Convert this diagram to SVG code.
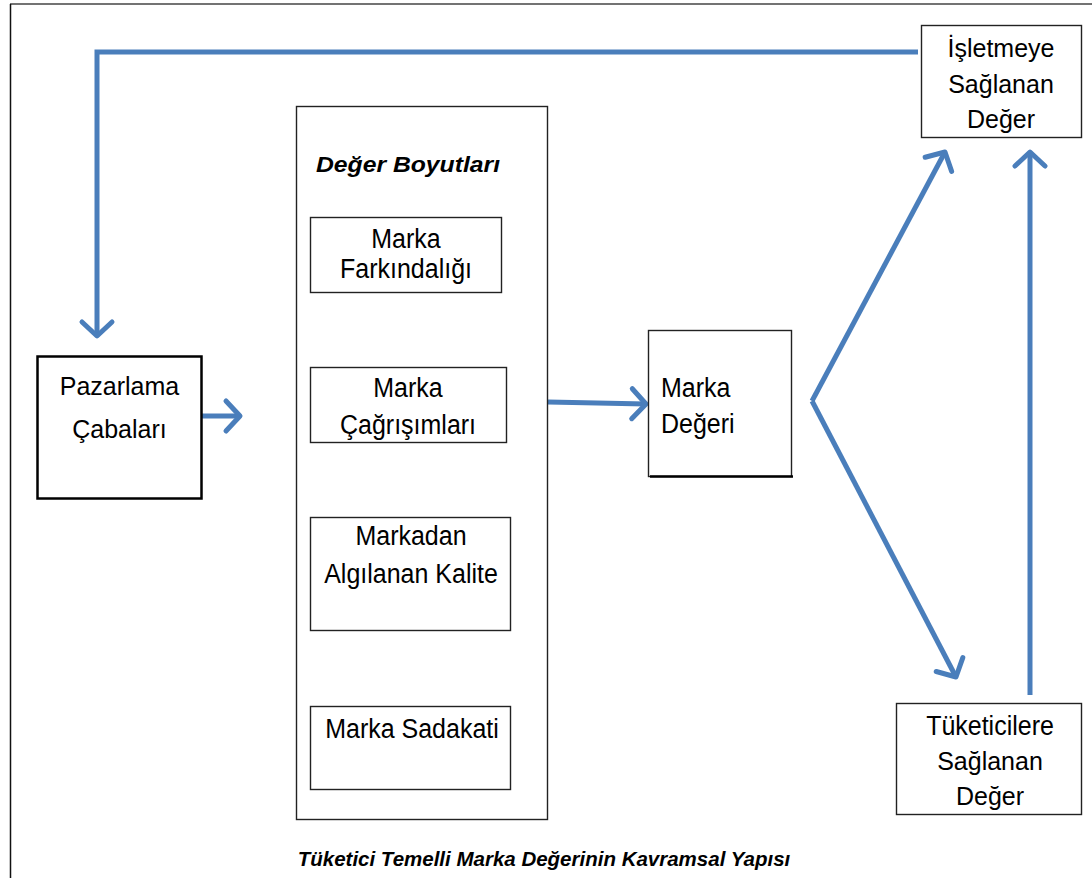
<svg xmlns="http://www.w3.org/2000/svg" width="1092" height="878" viewBox="0 0 1092 878">
<style>
.box{fill:#fff;stroke:#222;stroke-width:1.4}
.t{font-family:"Liberation Sans",Arial,sans-serif;font-size:25px;fill:#000}
.c{text-anchor:middle}
.bi{font-weight:bold;font-style:italic}
.con{fill:none;stroke:#4a7ebb;stroke-width:5;stroke-linejoin:miter}
</style>
<defs>
<marker id="ah" markerUnits="userSpaceOnUse" viewBox="0 0 22 36" refX="17" refY="18" markerWidth="22" markerHeight="36" orient="auto" overflow="visible">
<path d="M3,3 L17,18 L3,33" fill="none" stroke="#4a7ebb" stroke-width="5" stroke-linecap="round" stroke-linejoin="round"/>
</marker>
</defs>
<rect width="1092" height="878" fill="#fff"/>
<g id="frame">
<line x1="10" y1="4" x2="1092" y2="4" stroke="#444" stroke-width="1.5"/>
<line x1="10.5" y1="4" x2="10.5" y2="878" stroke="#111" stroke-width="1.5"/>
</g>
<g id="connectors">
<path class="con" d="M918,52 H97 V336" marker-end="url(#ah)"/>
<path class="con" d="M202,416 H240" marker-end="url(#ah)"/>
<path class="con" d="M548,402 L646,404" marker-end="url(#ah)"/>
<path class="con" d="M812,401 L945,152" marker-end="url(#ah)"/>
<path class="con" d="M812,401 L956,677" marker-end="url(#ah)"/>
<path class="con" d="M1030,695 V152" marker-end="url(#ah)"/>
</g>
<g id="isletmeye">
<rect class="box" x="921.5" y="25.5" width="160" height="112"/>
<text class="t c" x="1001" y="57">İşletmeye</text>
<text class="t c" x="1001" y="93">Sağlanan</text>
<text class="t c" x="1001" y="128">Değer</text>
</g>
<g id="pazarlama">
<rect x="37.5" y="356.5" width="164" height="142" fill="#fff" stroke="#000" stroke-width="2.5"/>
<text class="t c" x="119.5" y="395">Pazarlama</text>
<text class="t c" x="119.5" y="438">Çabaları</text>
</g>
<g id="deger-boyutlari">
<rect class="box" x="296.5" y="106.5" width="251" height="713"/>
<text class="t bi" transform="translate(316,172) scale(1.03,0.9)" style="font-size:24px">Değer Boyutları</text>
</g>
<g id="farkindalik">
<rect class="box" x="310.5" y="217.5" width="191" height="75"/>
<text class="t c" transform="translate(406,248) scale(1,1.12)">Marka</text>
<text class="t c" transform="translate(406,278) scale(1,1.12)">Farkındalığı</text>
</g>
<g id="cagrisim">
<rect class="box" x="310.5" y="367.5" width="196" height="75"/>
<text class="t c" transform="translate(408,397) scale(1,1.12)">Marka</text>
<text class="t c" transform="translate(408,434) scale(1,1.12)">Çağrışımları</text>
</g>
<g id="kalite">
<rect class="box" x="310.5" y="517.5" width="200" height="113"/>
<text class="t c" transform="translate(411,545) scale(1,1.12)">Markadan</text>
<text class="t c" transform="translate(411,583) scale(1,1.12)">Algılanan Kalite</text>
</g>
<g id="sadakat">
<rect class="box" x="310.5" y="706.5" width="200" height="83"/>
<text class="t c" transform="translate(412,738) scale(1,1.12)">Marka Sadakati</text>
</g>
<g id="marka-degeri">
<rect class="box" x="648.5" y="330.5" width="143" height="146"/>
<line x1="650" y1="476.5" x2="793" y2="476.5" stroke="#000" stroke-width="2.5"/>
<text class="t" transform="translate(661,397) scale(1,1.12)">Marka</text>
<text class="t" transform="translate(661,433) scale(1,1.12)">Değeri</text>
</g>
<g id="tuketicilere">
<rect class="box" x="896.5" y="703.5" width="185" height="111"/>
<text class="t c" transform="translate(990,735) scale(1,1.1)">Tüketicilere</text>
<text class="t c" x="990" y="770">Sağlanan</text>
<text class="t c" x="990" y="805">Değer</text>
</g>
<text class="t bi" x="544" y="866" text-anchor="middle" style="font-size:20.5px">Tüketici Temelli Marka Değerinin Kavramsal Yapısı</text>
</svg>
